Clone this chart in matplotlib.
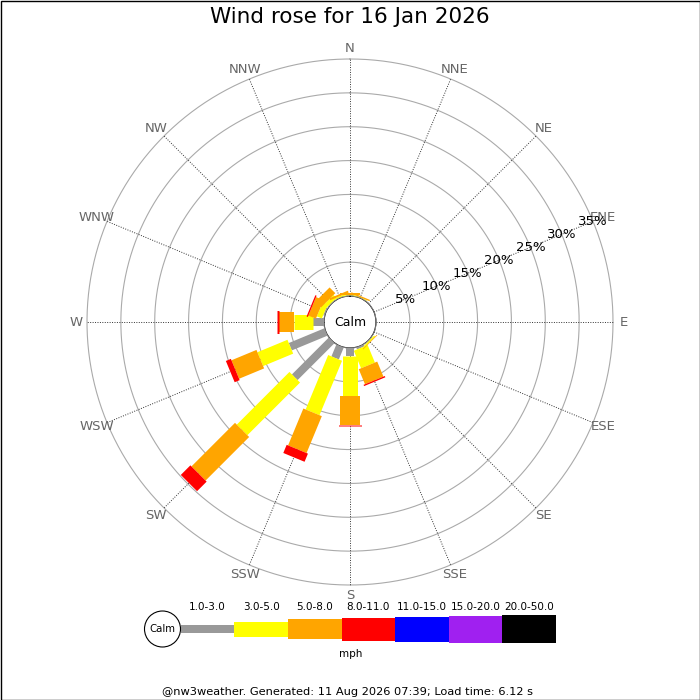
import numpy as np
import matplotlib
matplotlib.use("Agg")
import matplotlib.pyplot as plt
from matplotlib.patches import Circle, Rectangle

# ----------- Data (percent of time per direction and speed band) -----------
directions = ["N", "NNE", "NE", "ENE", "E", "ESE", "SE", "SSE",
              "S", "SSW", "SW", "WSW", "W", "WNW", "NW", "NNW"]
bands = ["1.0-3.0", "3.0-5.0", "5.0-8.0", "8.0-11.0", "11.0-15.0", "15.0-20.0", "20.0-50.0"]
band_colors = ["#999999", "#ffff00", "#ffa500", "#ff0000", "#0000ff", "#a020f0", "#000000"]

pct_1_3 = [0.05, 0, 0, 0, 0, 0, 0.1, 0.3, 1.2, 1.9, 7.7, 5.7, 1.6, 0.2, 0.1, 0.05]
pct_3_5 = [0.1, 0.1, 0, 0, 0, 0, 0.2, 2.8, 5.9, 8.7, 11.0, 4.8, 2.9, 0.8, 0.6, 0.2]
pct_5_8 = [0.25, 0.2, 0, 0, 0, 0, 0.1, 2.4, 4.2, 5.9, 9.1, 4.0, 2.1, 1.2, 1.2, 0.3]
pct_8_11 = [0, 0, 0, 0, 0, 0, 0, 0.2, 0.2, 1.3, 2.0, 0.8, 0.4, 0.2, 0, 0]
pct_11_15 = [0] * 16
pct_15_20 = [0] * 16
pct_20_50 = [0] * 16

ring_pcts = [5, 10, 15, 20, 25, 30, 35]

title = "Wind rose for 16 Jan 2026"
footer = "@nw3weather. Generated: 11 Aug 2026 07:39; Load time: 6.12 s"

# ----------- Plot -----------
band_values = np.array([pct_1_3, pct_3_5, pct_5_8, pct_8_11, pct_11_15, pct_15_20, pct_20_50])
band_px = [8, 15, 20, 23, 25, 27, 28]          # bar thickness in pixels
px2pt = 72 / 100

fig = plt.figure(figsize=(7, 7), dpi=100)
ax = fig.add_axes([0.5 - 263 / 700, 0.54 - 263 / 700, 526 / 700, 526 / 700], projection="polar")
ax.set_theta_zero_location("N")
ax.set_theta_direction(-1)
ax.set_rorigin(-3.84)
ax.set_ylim(0, 35)
ax.grid(False)
ax.set_xticks([])
ax.set_yticks([])
for sp in ax.spines.values():
    sp.set_visible(False)

theta = np.radians(np.arange(16) * 22.5)
full = np.linspace(0, 2 * np.pi, 400)

# rings and spokes
for r in ring_pcts:
    ax.plot(full, np.full_like(full, r), color="#aaaaaa", lw=0.8, zorder=1, clip_on=False)
for th in theta:
    ax.plot([th, th], [0, 35], color="#333333", lw=0.7, ls=(0, (1, 1.5)), zorder=1, clip_on=False)

# stacked bars
cum = np.zeros(16)
for i, vals in enumerate(band_values):
    for j, th in enumerate(theta):
        if vals[j] > 0:
            ax.plot([th, th], [cum[j], cum[j] + vals[j]], color=band_colors[i],
                    lw=band_px[i] * px2pt, solid_capstyle="butt", zorder=3 + i)
    cum += vals

# calm circle
ax.add_patch(Circle((0.5, 0.5), 26 / 526, transform=ax.transAxes,
                    facecolor="white", edgecolor="#999999", lw=0.8, zorder=20))
ax.text(0.5, 0.5, "Calm", transform=ax.transAxes, ha="center", va="center",
        fontsize=9, zorder=21)

# percentage labels along ENE
for r in ring_pcts:
    ax.text(np.radians(67.5), r, f"{r}%", ha="center", va="center", fontsize=9.5, zorder=22)

# direction labels
for th, name in zip(theta, directions):
    ax.text(th, 36.6, name, ha="center", va="center", fontsize=9.5, color="#666666")

fig.text(0.5, 1 - 17 / 700, title, ha="center", va="center", fontsize=15.5)

# ----------- Legend -----------
leg = fig.add_axes([0, 0, 1, 1])
leg.set_xlim(0, 700)
leg.set_ylim(700, 0)
leg.axis("off")
seg_len = 53.6
lefts = 180.7 + seg_len * np.arange(len(bands))
leg.barh([629] * len(bands), [seg_len] * len(bands), left=lefts, height=band_px,
         color=band_colors, zorder=2)
for x, lab in zip(lefts, bands):
    leg.text(x + seg_len / 2, 606.5, lab, ha="center", va="center", fontsize=7.5)
leg.add_patch(Circle((162.5, 629), 18, facecolor="white", edgecolor="black", lw=0.8, zorder=3))
leg.text(162.5, 629, "Calm", ha="center", va="center", fontsize=7.3, zorder=4)
leg.text(351, 654, "mph", ha="center", va="center", fontsize=7.5)
leg.text(348, 692, footer, ha="center", va="center", fontsize=8.2)
leg.add_patch(Rectangle((0.5, 0.5), 699, 699, fill=False, edgecolor="black", lw=1))

plt.savefig("out.png", dpi=100)
